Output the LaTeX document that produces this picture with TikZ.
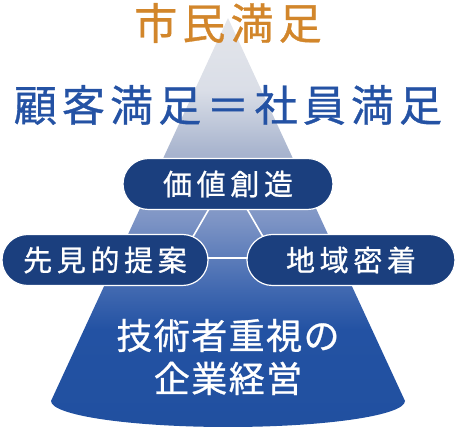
\documentclass[tikz,border=0pt]{standalone}
\usepackage{fontspec}
\newfontfamily\jpfont[FakeBold=0.8]{Noto Sans CJK JP}
\usetikzlibrary{calc,shapes.misc}

\definecolor{civicorange}{RGB}{210,134,43}
\definecolor{headblue}{RGB}{36,82,164}
\definecolor{pillnavy}{RGB}{27,63,126}
\definecolor{coneTop}{RGB}{228,230,235}
\definecolor{coneT}{RGB}{218,222,231}
\definecolor{coneA}{RGB}{170,182,207}
\definecolor{coneB}{RGB}{125,148,197}
\definecolor{coneC}{RGB}{64,104,176}
\definecolor{coneD}{RGB}{35,82,163}
\definecolor{coneE}{RGB}{33,80,160}

\pgfdeclareverticalshading{conefade}{100bp}{color(0bp)=(coneE); color(25bp)=(coneE);
  color(36.9bp)=(coneD); color(41.7bp)=(coneC); color(50.3bp)=(coneB);
  color(58.9bp)=(coneA); color(66.2bp)=(coneT); color(75bp)=(coneTop); color(100bp)=(coneTop)}

\pgfdeclarelayer{back}
\pgfsetlayers{back,main}

\begin{document}
\begin{tikzpicture}[x=1pt, y=1pt,
  pill/.style={rounded rectangle, fill=pillnavy, draw=white, line width=1.2pt,
    text=white, inner sep=0pt, minimum height=51pt,
    font=\jpfont\addfontfeature{LetterSpace=16}\fontsize{29}{29}\selectfont},
  headline/.style={inner sep=0pt, font=\jpfont\addfontfeature{LetterSpace=12}\fontsize{43}{43}\selectfont},
  link/.style={white, line width=1.6pt}]

\useasboundingbox (0,0) rectangle (456,428);

\begin{pgfonlayer}{back}
\path[shading=conefade] (228,410) -- (51,27)
  arc[start angle=180, end angle=360, x radius=177, y radius=26] -- cycle;
\end{pgfonlayer}

\node[headline, text=civicorange] (civic) at (228,405) {市民満足};
\node[headline, text=headblue]    (equal) at (228,323) {顧客満足＝社員満足};

\node[pill, minimum width=210pt] (cv) at (228,244) {価値創造};
\node[pill, minimum width=206pt] (lp) at (105,168) {先見的提案};
\node[pill, minimum width=208pt] (rp) at (351,168) {地域密着};

\begin{pgfonlayer}{back}
\draw[link] ($(cv.center)+(-15,-18)$) -- ($(lp.center)+(78,6)$);
\draw[link] ($(cv.center)+(15,-18)$)  -- ($(rp.center)+(-78,6)$);
\draw[link] ($(lp.center)+(0,2)$)     -- ($(rp.center)+(0,2)$);
\end{pgfonlayer}

\node[align=center, text=white, inner sep=0pt,
  font=\jpfont\addfontfeature{LetterSpace=4}\fontsize{36}{43}\selectfont] (base) at (228,71)
  {技術者重視の\\企業経営};

\end{tikzpicture}
\end{document}
